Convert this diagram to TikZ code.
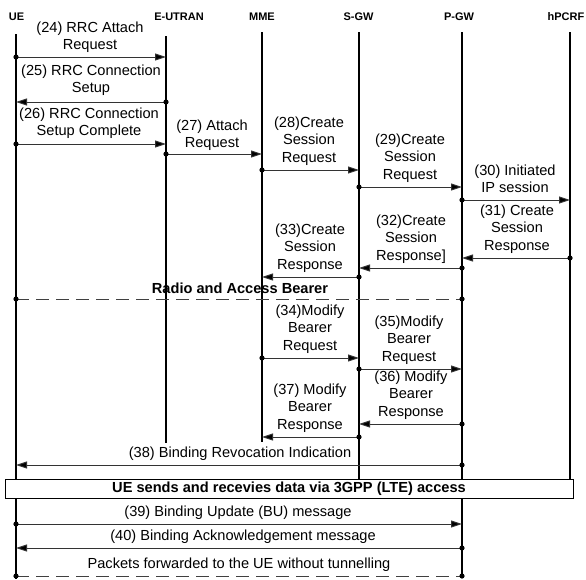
\documentclass[tikz,border=0pt]{standalone}
\usepackage{fontspec}
\setmainfont{Liberation Sans}
\usetikzlibrary{arrows.meta}
\newcommand\msgarrow[4]{% name, from x, to x, y
  \coordinate (#1s) at (#2,#4); \coordinate (#1e) at (#3,#4);
  \draw[msgline] (#1s) -- (#1e); \fill[black] (#1s) circle (2.6pt);}
\newcommand\msgdash[4]{% name, from x, to x, y
  \coordinate (#1s) at (#2,#4); \coordinate (#1e) at (#3,#4);
  \draw[dashline] (#1s) -- (#1e); \fill[black] (#1s) circle (2.6pt); \fill[black] (#1e) circle (2.6pt);}
\begin{document}
\begin{tikzpicture}[x=1pt,y=-1pt,
 lifeline/.style={line width=1.3pt,draw=black},
 msgline/.style={line width=1pt,draw=black!80,-{Triangle[length=11pt,width=7pt,fill=black]}},
 dashline/.style={line width=1pt,draw=black!75,dash pattern=on 13pt off 7pt},
 lbl/.style={align=center,inner sep=0pt,font=\fontsize{14.6}{17.5}\selectfont},
 hdr/.style={inner sep=0pt,font=\fontsize{11}{13}\selectfont\bfseries},
 bld/.style={inner sep=0pt,font=\fontsize{14.6}{17.5}\selectfont\bfseries}]
\useasboundingbox (0,0) rectangle (586,579);
% headers
\node[hdr] (hUE) at (16.5,17) {UE};
\node[hdr] (hEU) at (179,17) {E-UTRAN};
\node[hdr] (hMME) at (262,17) {MME};
\node[hdr] (hSGW) at (358.5,17) {S-GW};
\node[hdr] (hPGW) at (459,17) {P-GW};
\node[hdr] (hPCRF) at (566,17) {hPCRF};
% lifelines
\coordinate (ueT) at (16,34);   \coordinate (ueB) at (16,579);
\coordinate (euT) at (166,36);  \coordinate (euB) at (166,443);
\coordinate (mmeT) at (262,32); \coordinate (mmeB) at (262,442);
\coordinate (sgwT) at (359,32); \coordinate (sgwB) at (359,480);
\coordinate (pgwT) at (462,32); \coordinate (pgwB) at (462,577);
\coordinate (pcrfT) at (570,32); \coordinate (pcrfB) at (570,480);
\foreach \l in {ue,eu,mme,sgw,pgw,pcrf} \draw[lifeline] (\l T) -- (\l B);
% messages
\msgarrow{m24}{16}{166}{57}
\node[lbl] (t24) at (90,37) {(24) RRC Attach\\Request};
\msgarrow{m25}{166}{16}{102}
\node[lbl] (t25) at (91,80) {(25) RRC Connection\\Setup};
\msgarrow{m26}{16}{166}{144}
\node[lbl] (t26) at (89,123) {(26) RRC Connection\\Setup Complete};
\msgarrow{m27}{166}{262}{154}
\node[lbl] (t27) at (212,135) {(27) Attach\\Request};
\msgarrow{m28}{262}{359}{170}
\node[lbl] (t28) at (309,141) {(28)Create\\Session\\Request};
\msgarrow{m29}{359}{462}{187}
\node[lbl] (t29) at (410,158) {(29)Create\\Session\\Request};
\msgarrow{m30}{462}{570}{200}
\node[lbl] (t30) at (515,179) {(30) Initiated\\IP session};
\msgarrow{m31}{570}{462}{258}
\node[lbl] (t31) at (517,229) {(31) Create\\Session\\Response};
\msgarrow{m32}{462}{359}{268}
\node[lbl] (t32) at (411,239) {(32)Create\\Session\\Response]};
\msgarrow{m33}{359}{262}{277}
\node[lbl] (t33) at (310,248) {(33)Create\\Session\\Response};
\node[bld] (rab) at (240,288) {Radio and Access Bearer};
\msgdash{d1}{16}{462}{299}
\msgarrow{m34}{262}{359}{358}
\node[lbl] (t34) at (310,329) {(34)Modify\\Bearer\\Request};
\msgarrow{m35}{359}{462}{369}
\node[lbl] (t35) at (409,340) {(35)Modify\\Bearer\\Request};
\msgarrow{m36}{462}{359}{424}
\node[lbl] (t36) at (411,395) {(36) Modify\\Bearer\\Response};
\msgarrow{m37}{359}{262}{437}
\node[lbl] (t37) at (310,408) {(37) Modify\\Bearer\\Response};
\msgarrow{m38}{462}{16}{465}
\node[lbl] (t38) at (240,454) {(38) Binding Revocation Indication};
% box
\node[bld,draw=black,line width=1pt,fill=white,minimum width=568pt,minimum height=19pt] (box) at (289,488.5) {UE sends and recevies data via 3GPP (LTE) access};
\msgarrow{m39}{16}{462}{524}
\node[lbl] (t39) at (238,513) {(39) Binding Update (BU) message};
\msgarrow{m40}{462}{16}{548}
\node[lbl] (t40) at (243,537) {(40) Binding Acknowledgement message};
\msgdash{d2}{16}{462}{576}
\node[lbl] (t41) at (239,565) {Packets forwarded to the UE without tunnelling};
\end{tikzpicture}
\end{document}
